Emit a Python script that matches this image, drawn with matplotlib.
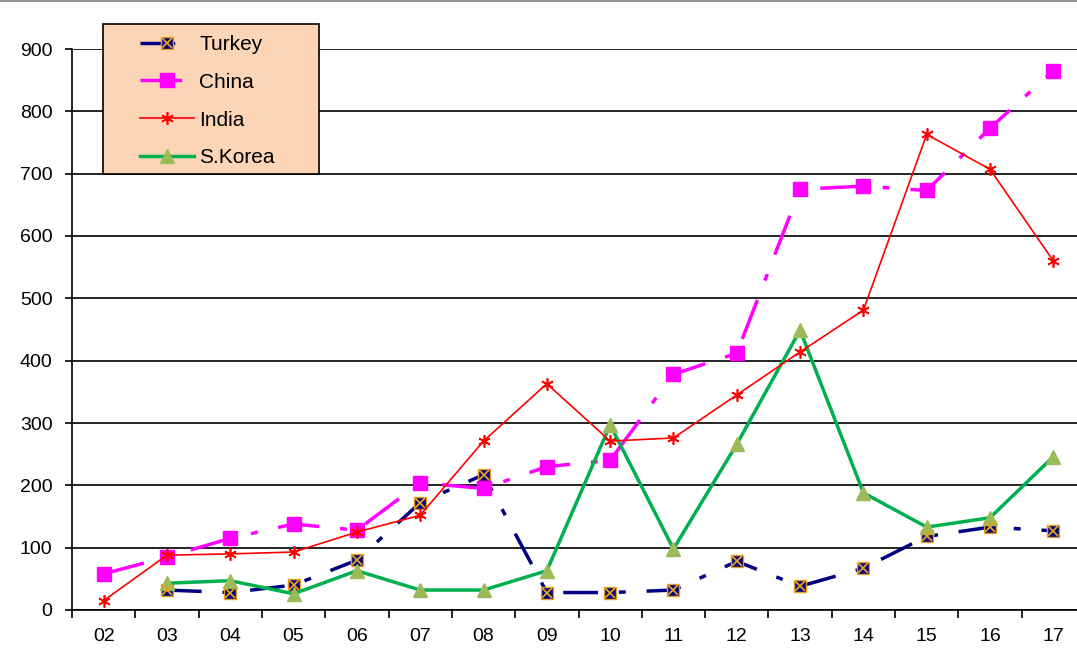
import matplotlib.pyplot as plt
from matplotlib.lines import Line2D
from matplotlib.patches import Rectangle
from matplotlib.legend_handler import HandlerTuple

years = ["02", "03", "04", "05", "06", "07", "08", "09",
         "10", "11", "12", "13", "14", "15", "16", "17"]

# None = no value for that year
turkey = [None, 32, 28, 40, 80, 172, 217, 28, 28, 32, 78, 38, 67, 118, 133, 127]
china = [58, 85, 115, 138, 128, 204, 195, 230, 240, 378, 412, 675, 680, 673, 773, 865]
india = [15, 88, 90, 93, 125, 152, 271, 363, 271, 276, 345, 414, 481, 763, 707, 560]
skorea = [None, 43, 47, 26, 63, 32, 32, 63, 297, 98, 266, 449, 188, 133, 148, 246]

plt.rcParams['font.family'] = ['Liberation Sans', 'DejaVu Sans']

W, H = 1077, 655
fig = plt.figure(figsize=(W / 100, H / 100), dpi=100)
ax = fig.add_axes([72/W, 45/H, 1013/W, 561/H])

x = list(range(len(years)))
tx = [i for i, v in zip(x, turkey) if v is not None]
ty = [v for v in turkey if v is not None]
kx = [i for i, v in zip(x, skorea) if v is not None]
ky = [v for v in skorea if v is not None]

navy = '#000080'
orange = '#E8A020'

t_line, = ax.plot(tx, ty, color=navy, lw=2.5, dashes=(10, 6, 2, 6),
                  marker='s', ms=9, mfc=navy, mec=orange, mew=1, zorder=3)
t_x, = ax.plot(tx, ty, ls='none', marker='x', ms=7, mec=orange, mew=1.3, zorder=4)
c_line, = ax.plot(x, china, color='#FF00FF', lw=2.5, dashes=(12, 6, 2, 6),
                  marker='s', ms=10, mfc='#FF00FF', mec='#FF00FF', zorder=3)
i_line, = ax.plot(x, india, color='#FF0000', lw=1.2,
                  marker=(6, 2, 0), ms=9, mec='#FF0000', mew=1.2, zorder=4)
k_line, = ax.plot(kx, ky, color='#00B050', lw=2.5,
                  marker='^', ms=10, mfc='#9BBB59', mec='#9BBB59', zorder=3)

ax.set_xlim(-0.5, 15.5)
ax.set_ylim(0, 900)
ax.set_yticks(range(0, 901, 100))
ax.set_xticks(x)
ax.set_xticklabels(years)
ax.set_xticks([i - 0.5 for i in range(len(years) + 1)], minor=True)
ax.tick_params(axis='x', which='major', length=0, pad=13, labelsize=14)
ax.tick_params(axis='x', which='minor', length=6, width=1.2, color='black')
ax.tick_params(axis='y', length=5, width=1.2, pad=9, labelsize=14)
ax.yaxis.grid(True, color='black', lw=1.2)
ax.set_axisbelow(True)
for s in ['top', 'right']:
    ax.spines[s].set_visible(False)
ax.spines['left'].set_linewidth(1.2)
ax.spines['bottom'].set_linewidth(1.2)

# legend box drawn separately, legend itself frameless on top of it
box = Rectangle((103/W, 1 - 174/H), 216/W, 150/H, transform=fig.transFigure,
                facecolor='#FBD5B5', edgecolor='black', lw=1.2, zorder=4)
fig.add_artist(box)
leg = fig.legend([(t_line, t_x), c_line, i_line, k_line],
                 ["Turkey", "China", "India", "S.Korea"],
                 handler_map={tuple: HandlerTuple(ndivide=1, pad=0)},
                 loc='upper left', bbox_to_anchor=(140/W, 1 - 35/H),
                 fontsize=15, frameon=False, borderpad=0, borderaxespad=0,
                 labelspacing=0.9, handlelength=2.6, handletextpad=0.25)
leg.set_zorder(5)

fig.add_artist(Line2D([0, 1], [1 - 1/H, 1 - 1/H], color='#808080', lw=1.2,
                      transform=fig.transFigure))

fig.savefig("out.png", dpi=100)
